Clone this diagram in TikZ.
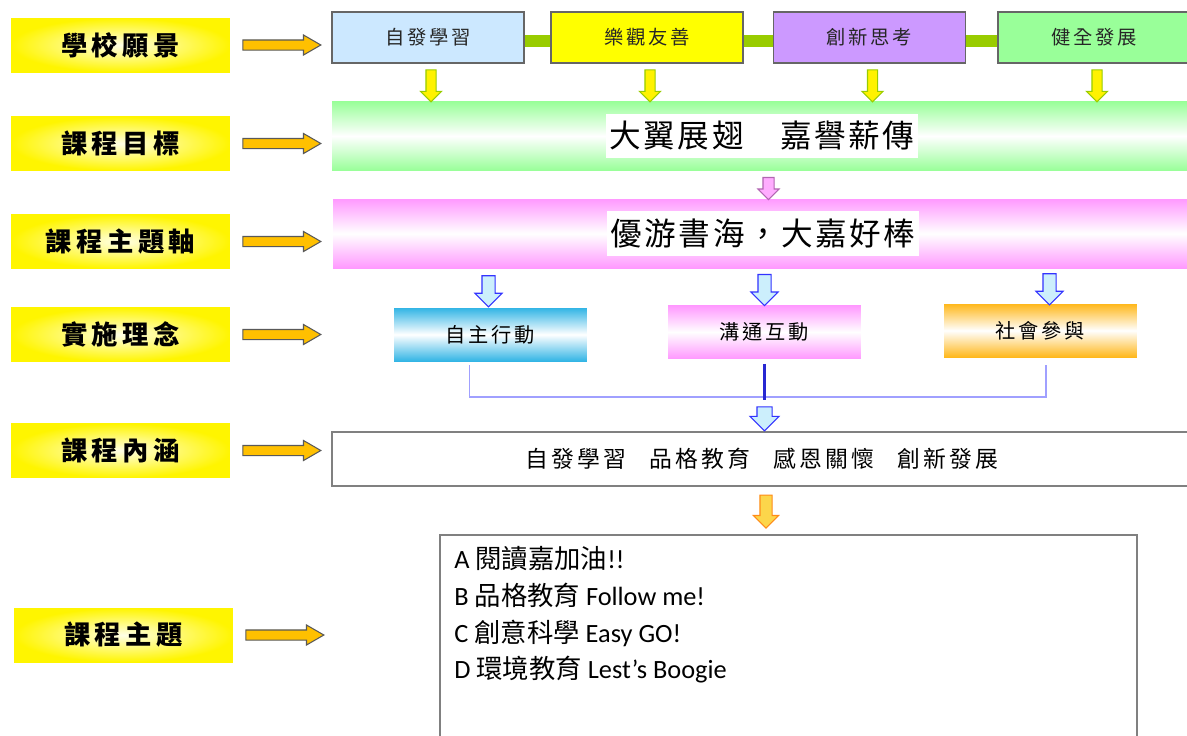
\documentclass[tikz,border=0pt]{standalone}
\usepackage{fontspec}
\setmainfont{Carlito}
\newfontfamily\cjk{Noto Sans CJK TC}
\newfontfamily\cjklabel{Noto Sans CJK TC}[LetterSpace=17]
\newfontfamily\cjkvis{Noto Sans CJK TC}[LetterSpace=14]
\newfontfamily\cjkbanner{Noto Sans CJK TC}[LetterSpace=8]
\newcommand{\zh}[1]{{\cjk\fontsize{15}{18}\selectfont #1}}
\usetikzlibrary{arrows.meta, calc, positioning, shapes.arrows}
\definecolor{labelyellow}{RGB}{255,245,0}
\definecolor{arroworange}{RGB}{255,192,0}
\definecolor{visblue}{RGB}{204,232,255}
\definecolor{visyellow}{RGB}{255,255,0}
\definecolor{vispurple}{RGB}{204,153,255}
\definecolor{visgreen}{RGB}{153,255,153}
\definecolor{barolive}{RGB}{153,204,0}
\definecolor{goalgreen}{RGB}{153,255,153}
\definecolor{themepink}{RGB}{255,153,255}
\definecolor{practiceblue}{RGB}{51,181,229}
\definecolor{practicepink}{RGB}{255,153,255}
\definecolor{practiceorange}{RGB}{255,184,28}
\definecolor{joinblue}{RGB}{160,160,255}
\definecolor{deepblue}{RGB}{40,40,210}

\begin{document}
\begin{tikzpicture}[x=0.02cm, y=-0.02cm,
  rowlabel/.style={inner color=yellow!10, outer color=labelyellow, minimum width=4.38cm, minimum height=1.08cm, inner sep=0pt, font=\cjklabel\bfseries\fontsize{15}{18}\selectfont},
  visbox/.style={fill=#1, draw=black!60, line width=0.7pt, minimum width=3.84cm, minimum height=1.02cm, inner sep=0pt, text=black!85, font=\cjkvis\fontsize{11}{13}\selectfont},
  bar/.style={line width=0.24cm, draw=barolive},
  banner/.style={top color=#1, bottom color=#1, middle color=white, minimum width=17.2cm, minimum height=1.38cm, inner sep=0pt},
  bannertext/.style={fill=white, inner xsep=0.08cm, inner ysep=0.15cm, font=\cjkbanner\fontsize{18}{22}\selectfont},
  practice/.style={top color=#1, bottom color=#1, middle color=white, minimum width=3.86cm, minimum height=1.06cm, inner sep=0pt, font=\cjkvis\fontsize{11.5}{14}\selectfont},
  textbox/.style={draw=black!50, line width=0.9pt, fill=white, inner sep=0pt},
  topicline/.style={anchor=base west, inner sep=0pt, font=\fontsize{15}{18}\selectfont},
  fatarrow/.style={single arrow, inner xsep=0pt, line width=0.6pt},
  rightarrow/.style={fatarrow, fill=arroworange, draw=black!65, anchor=tail, minimum height=1.56cm, inner ysep=0.09cm, single arrow head extend=0.1cm, single arrow tip angle=60},
  yarrow/.style={fatarrow, rotate=-90, fill=yellow, draw=barolive, minimum height=0.64cm, inner ysep=0.09cm, single arrow head extend=0.11cm},
  parrow/.style={fatarrow, rotate=-90, fill=themepink!80!white, draw=violet!60, minimum height=0.44cm, inner ysep=0.1cm, single arrow head extend=0.1cm},
  barrow/.style={fatarrow, rotate=-90, fill=cyan!20, draw=blue!80, minimum height=0.62cm, inner ysep=0.12cm, single arrow head extend=0.14cm},
  oarrow/.style={fatarrow, rotate=-90, fill=yellow!60!orange!70, draw=orange!90, minimum height=0.66cm, inner ysep=0.11cm, single arrow head extend=0.13cm},
  joinline/.style={draw=joinblue, line width=0.7pt},
  midline/.style={draw=deepblue, line width=1.6pt}
]
\fill[white] (0,0) rectangle (1187,735);
\useasboundingbox (0,0) rectangle (1187,735);

% Row labels
\node[rowlabel] (l1) at (120.5,45) {學校願景};
\node[rowlabel] (l2) at (120.5,143.5) {課程目標};
\node[rowlabel] (l3) at (120.5,241.5) {課程主題軸};
\node[rowlabel] (l4) at (120.5,334.5) {實施理念};
\node[rowlabel] (l5) at (120.5,450.5) {課程內涵};
\node[rowlabel] (l6) at (123.5,635) {課程主題};

% Row arrows
\foreach \i in {1,...,6}
  \node[rightarrow] (r\i) at ([xshift=0.24cm]l\i.east) {};

% School vision
\node[visbox=visblue] (vis1) at (428,37.5) {自發學習};
\node[visbox=visyellow] (vis2) at (647,37.5) {樂觀友善};
\node[visbox=vispurple] (vis3) at (869.5,37.5) {創新思考};
\node[visbox=visgreen] (vis4) at (1094,37.5) {健全發展};
\draw[bar] ([yshift=-0.07cm]vis1.east) -- ([yshift=-0.07cm]vis2.west);
\draw[bar] ([yshift=-0.07cm]vis2.east) -- ([yshift=-0.07cm]vis3.west);
\draw[bar] ([yshift=-0.07cm]vis3.east) -- ([yshift=-0.07cm]vis4.west);

% Goal
\node[banner=goalgreen] (goal) at (762,136) {};
\node[bannertext] (goaltext) at (goal.center) {大翼展翅　嘉譽薪傳};
\foreach \i in {1,...,4}
  \node[yarrow] (y\i) at ($(vis\i.south)!0.5!(vis\i.south |- goal.north)+(3,1)$) {};

% Theme axis
\node[banner=themepink] (theme) at (763,233.5) {};
\node[bannertext] (themetext) at (theme.center) {優游書海，大嘉好棒};
\node[parrow] (p1) at ($(goal.south)!0.5!(theme.north)+(6,1)$) {};

% Practice ideas
\node[practice=practiceblue] (pr1) at (490.5,334.5) {自主行動};
\node[practice=practicepink] (pr2) at (764.5,332) {溝通互動};
\node[practice=practiceorange] (pr3) at (1040.5,330.5) {社會參與};
\node[barrow] (b1) at ($(pr1.north |- theme.south)!0.5!(pr1.north)+(-2,0)$) {};
\node[barrow] (b2) at ($(pr2.north |- theme.south)!0.5!(pr2.north)$) {};
\node[barrow] (b3) at ($(pr3.north |- theme.south)!0.5!(pr3.north)+(9,0)$) {};

% Joining lines
\coordinate (join) at (764.5,397);
\draw[joinline] ([xshift=-0.42cm, yshift=-0.08cm]pr1.south) |- (join) -| ([xshift=0.11cm, yshift=-0.16cm]pr3.south);
\draw[midline] ([yshift=-0.1cm]pr2.south) -- ([yshift=-0.06cm]join);

% Content
\node[textbox, minimum width=17.2cm, minimum height=1.08cm, font=\cjkvis\fontsize{13}{16}\selectfont] (content) at (762,459) {自發學習\hspace{1em}品格教育\hspace{1em}感恩關懷\hspace{1em}創新發展};
\node[barrow, minimum height=0.48cm, inner ysep=0.14cm] (b4) at ($(join)!0.5!(join |- content.north)+(0,1)$) {};

% Topics
\node[textbox, minimum width=13.94cm, minimum height=4.2cm] (topics) at (788.5,640) {};
\node[oarrow] (o1) at ($(content.south)!0.5!(content.south |- topics.north)+(4,-2)$) {};
\node[topicline] (ta) at (454,568) {A \zh{閱讀嘉加油}!!};
\node[topicline] (tb) at (454,605) {B \zh{品格教育} Follow me!};
\node[topicline] (tc) at (454,642) {C \zh{創意科學} Easy GO!};
\node[topicline] (td) at (454,678) {D \zh{環境教育} Lest’s Boogie};

\end{tikzpicture}
\end{document}
